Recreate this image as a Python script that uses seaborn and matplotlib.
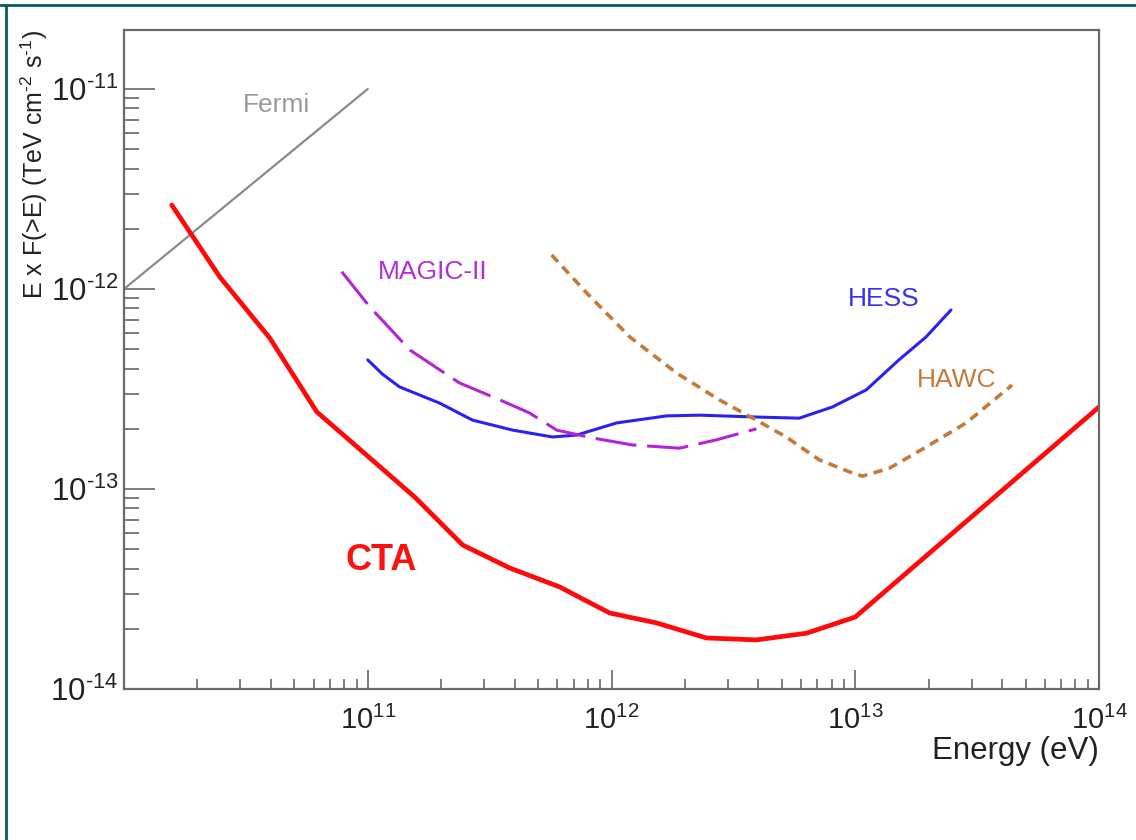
import numpy as np
import matplotlib
matplotlib.use("Agg")
import matplotlib.pyplot as plt
import seaborn as sns
from matplotlib.lines import Line2D
from matplotlib.ticker import LogLocator, NullFormatter

# sensitivity curves, energy in eV, E x F(>E) in TeV cm^-2 s^-1
fermi_e = [1e10, 1e11]
fermi_f = [1e-12, 1e-11]

cta_e = [1.57e10, 2.47e10, 3.96e10, 6.18e10, 1.0e11, 1.56e11, 2.45e11, 3.82e11,
         6.12e11, 9.82e11, 1.53e12, 2.45e12, 3.93e12, 6.3e12, 1.0e13, 1.0e14]
cta_f = [2.63e-12, 1.15e-12, 5.69e-13, 2.43e-13, 1.46e-13, 9.1e-14, 5.25e-14, 4.03e-14,
         3.24e-14, 2.4e-14, 2.14e-14, 1.8e-14, 1.76e-14, 1.9e-14, 2.29e-14, 2.57e-13]

magic_e = [7.82e10, 1.02e11, 1.49e11, 2.38e11, 3.48e11, 4.61e11, 5.96e11, 8.36e11,
           1.22e12, 1.9e12, 2.69e12, 3.93e12]
magic_f = [1.22e-12, 8.13e-13, 4.95e-13, 3.39e-13, 2.79e-13, 2.4e-13, 1.97e-13, 1.8e-13,
           1.66e-13, 1.6e-13, 1.76e-13, 2.0e-13]

hess_e = [1.0e11, 1.15e11, 1.35e11, 1.97e11, 2.69e11, 3.93e11, 5.73e11, 7.19e11, 1.05e12,
          1.68e12, 2.3e12, 3.93e12, 5.89e12, 8.05e12, 1.11e13, 1.51e13, 1.95e13, 2.47e13]
hess_f = [4.42e-13, 3.75e-13, 3.24e-13, 2.69e-13, 2.21e-13, 1.97e-13, 1.82e-13, 1.86e-13, 2.14e-13,
          2.32e-13, 2.34e-13, 2.29e-13, 2.26e-13, 2.57e-13, 3.13e-13, 4.42e-13, 5.75e-13, 7.85e-13]

hawc_e = [5.68e11, 7.91e11, 1.19e12, 1.85e12, 2.77e12, 3.93e12, 5.21e12, 7.11e12,
          9.44e12, 1.07e13, 1.38e13, 1.95e13, 2.85e13, 4.4e13]
hawc_f = [1.48e-12, 9.55e-13, 5.75e-13, 3.8e-13, 2.79e-13, 2.21e-13, 1.82e-13, 1.4e-13,
          1.22e-13, 1.16e-13, 1.27e-13, 1.62e-13, 2.14e-13, 3.31e-13]

x_ticks = [1e11, 1e12, 1e13, 1e14]
x_tick_labels = [r"$\mathregular{10^{11}}$", r"$\mathregular{10^{12}}$",
                 r"$\mathregular{10^{13}}$", r"$\mathregular{10^{14}}$"]
y_ticks = [1e-14, 1e-13, 1e-12, 1e-11]
y_tick_labels = [r"$\mathregular{10^{‐14}}$", r"$\mathregular{10^{‐13}}$",
                 r"$\mathregular{10^{‐12}}$", r"$\mathregular{10^{‐11}}$"]

sns.set_style("ticks")
plt.rcParams["font.family"] = ["Liberation Sans", "DejaVu Sans"]
plt.rcParams["mathtext.fontset"] = "custom"
plt.rcParams["mathtext.rm"] = "Liberation Sans"
plt.rcParams["mathtext.it"] = "Liberation Sans:italic"
plt.rcParams["mathtext.bf"] = "Liberation Sans:bold"
plt.rcParams["mathtext.sf"] = "Liberation Sans"

fig = plt.figure(figsize=(11.36, 8.4), dpi=100)
ax = fig.add_axes([124 / 1136, 1 - 689 / 840, (1099 - 124) / 1136, (689 - 30) / 840])

sns.lineplot(x=fermi_e, y=fermi_f, ax=ax, color="#8a8a8a", linewidth=1.6,
             estimator=None, sort=False)
sns.lineplot(x=hess_e, y=hess_f, ax=ax, color="#2a22ee", linewidth=2.2,
             estimator=None, sort=False)
sns.lineplot(x=magic_e, y=magic_f, ax=ax, color="#b424d2", linewidth=2.2,
             estimator=None, sort=False)
ax.lines[-1].set_dashes((13.5, 3.5))
sns.lineplot(x=hawc_e, y=hawc_f, ax=ax, color="#c47a3a", linewidth=2.6,
             estimator=None, sort=False)
ax.lines[-1].set_dashes((2.6, 1.8))
sns.lineplot(x=cta_e, y=cta_f, ax=ax, color="#ff0a0a", linewidth=3.4,
             estimator=None, sort=False)
for ln in ax.lines:
    ln.set_solid_joinstyle("round")
    ln.set_dash_joinstyle("round")

ax.set_xscale("log")
ax.set_yscale("log")
ax.set_xlim(1e10, 1e14)
ax.set_ylim(1e-14, 10 ** -10.705)

ax.set_xticks(x_ticks, labels=x_tick_labels)
ax.set_yticks(y_ticks, labels=y_tick_labels)
ax.xaxis.set_minor_locator(LogLocator(base=10, subs=np.arange(2, 10)))
ax.yaxis.set_minor_locator(LogLocator(base=10, subs=np.arange(2, 10)))
ax.xaxis.set_minor_formatter(NullFormatter())
ax.yaxis.set_minor_formatter(NullFormatter())

ax.tick_params(axis="both", which="both", direction="in", colors="#666666",
               labelcolor="#222222", width=1.2)
ax.tick_params(axis="x", which="major", length=14, labelsize=21, pad=12)
ax.tick_params(axis="x", which="minor", length=7)
ax.tick_params(axis="y", which="major", length=22, labelsize=22.5, pad=4)
ax.tick_params(axis="y", which="minor", length=11)
for s in ax.spines.values():
    s.set_color("#6a6a6a")
    s.set_linewidth(1.6)

ax.set_xlabel("Energy (eV)", loc="right", fontsize=22.5, color="#222222", labelpad=1)
ax.set_ylabel(r"E x F(>E) (TeV cm$^{\mathregular{‐2}}$ s$^{\mathregular{‐1}}$)",
              loc="top", fontsize=18, color="#222222", labelpad=0)

# curve labels
ax.text(4.24e10, 8.3e-12, "Fermi", color="#9a9a9a", fontsize=19, ha="center", va="center")
ax.text(1.1e11, 1.22e-12, "MAGIC-II", color="#b030d0", fontsize=19, ha="left", va="center")
ax.text(1.31e13, 8.9e-13, "HESS", color="#3a32ee", fontsize=19, ha="center", va="center")
ax.text(2.6e13, 3.5e-13, "HAWC", color="#c27a3e", fontsize=19, ha="center", va="center")
ax.text(1.14e11, 4.4e-14, "CTA", color="#ff1010", fontsize=26, fontweight="bold",
        ha="center", va="center")

# slide frame
fig.add_artist(Line2D([0, 1], [1 - 5 / 840, 1 - 5 / 840], transform=fig.transFigure,
                      color="#0b5c5c", linewidth=2))
fig.add_artist(Line2D([6 / 1136, 6 / 1136], [0, 1 - 5 / 840], transform=fig.transFigure,
                      color="#0b5c5c", linewidth=2))

fig.savefig("out.png", dpi=100)
